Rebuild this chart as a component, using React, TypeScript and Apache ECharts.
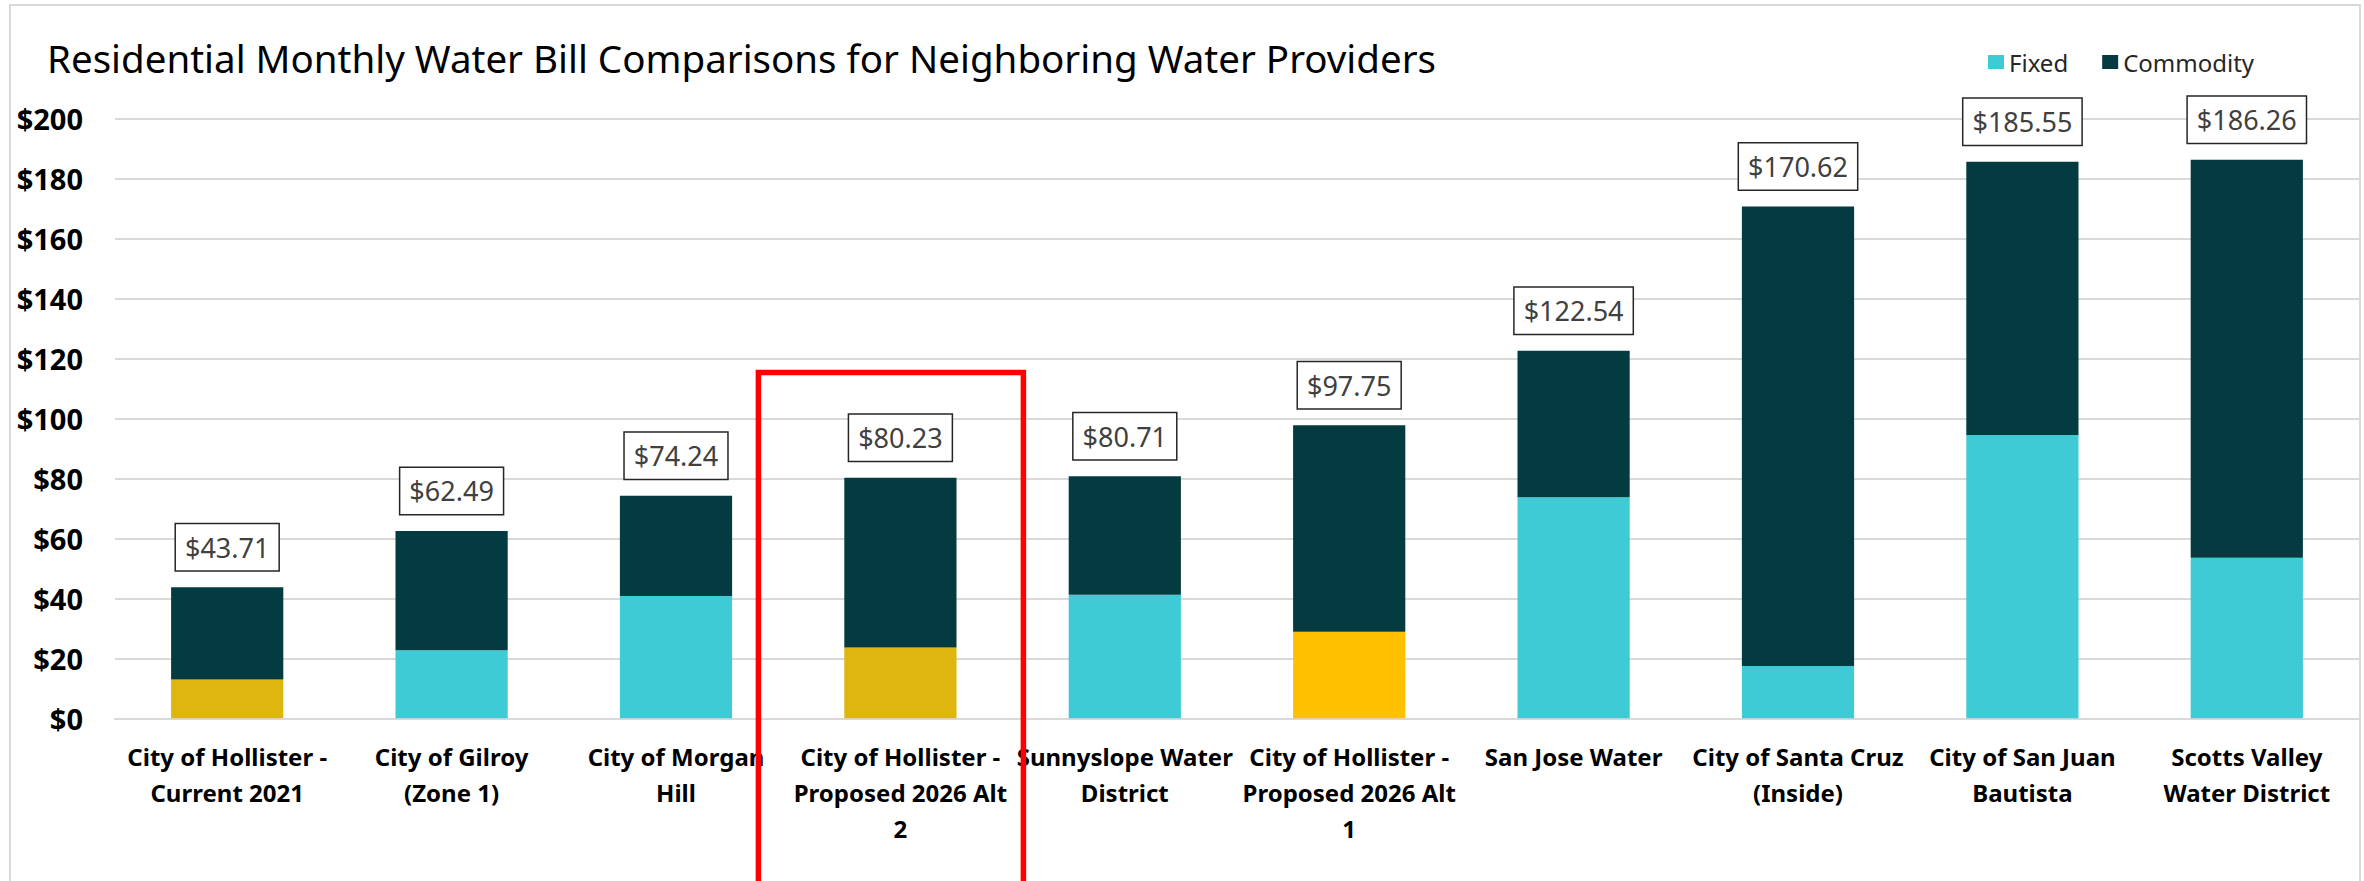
import React, { useEffect, useRef } from "react";
import * as echarts from "echarts";

const categories = [
  "City of Hollister -\nCurrent 2021",
  "City of Gilroy\n(Zone 1)",
  "City of Morgan\nHill",
  "City of Hollister -\nProposed 2026 Alt\n2",
  "Sunnyslope Water\nDistrict",
  "City of Hollister -\nProposed 2026 Alt\n1",
  "San Jose Water",
  "City of Santa Cruz\n(Inside)",
  "City of San Juan\nBautista",
  "Scotts Valley\nWater District",
];
const fixedValues = [12.9, 22.7, 40.8, 23.6, 41.2, 28.9, 73.7, 17.4, 94.5, 53.5];
const commodityValues = [30.81, 39.79, 33.44, 56.63, 39.51, 68.85, 48.84, 153.22, 91.05, 132.76];
const totalValues = [43.71, 62.49, 74.24, 80.23, 80.71, 97.75, 122.54, 170.62, 185.55, 186.26];
const highlightedIndex = 3;

const FONT = "'Noto Sans', sans-serif";
const FIXED_COLOR = "#3ECBD5";
const COMMODITY_COLOR = "#033B40";
const fixedOverrides: Record<number, string> = { 0: "#DFB510", 3: "#DFB510", 5: "#FFC000" };

export default function App() {
  const ref = useRef<HTMLDivElement>(null);
  useEffect(() => {
    const chart = echarts.init(ref.current!, null, { renderer: "svg" });
    chart.setOption({
      animation: false,
      backgroundColor: "#ffffff",
      title: {
        text: "Residential Monthly Water Bill Comparisons for Neighboring Water Providers",
        left: 47,
        top: 39,
        padding: 0,
        textStyle: { fontFamily: FONT, fontSize: 38.5, fontWeight: "normal", color: "#000000", lineHeight: 38 },
      },
      legend: {
        left: 1988,
        top: 50,
        padding: 0,
        icon: "rect",
        itemWidth: 16,
        itemHeight: 14,
        itemGap: 34,
        textStyle: { fontFamily: FONT, fontSize: 24, color: "#262626", lineHeight: 24 },
        data: ["Fixed", "Commodity"],
      },
      grid: { left: 115, right: 5, top: 118.5, bottom: 162.7, containLabel: false },
      xAxis: {
        type: "category",
        data: categories,
        axisLine: { show: true, lineStyle: { color: "#D9D9D9", width: 2 } },
        axisTick: { show: false },
        axisLabel: {
          interval: 0,
          margin: 20,
          fontFamily: FONT,
          fontSize: 24,
          fontWeight: "bold",
          color: "#000000",
          lineHeight: 36,
        },
      },
      yAxis: {
        type: "value",
        min: 0,
        max: 200,
        interval: 20,
        axisLine: { show: false },
        axisTick: { show: false },
        splitLine: { lineStyle: { color: "#D9D9D9", width: 2 } },
        axisLabel: {
          margin: 32,
          fontFamily: FONT,
          fontSize: 29,
          fontWeight: "bold",
          color: "#000000",
          formatter: (v: number) => "$" + v,
        },
      },
      series: [
        {
          name: "Fixed",
          type: "bar",
          stack: "bill",
          barWidth: "50%",
          itemStyle: { color: FIXED_COLOR },
          data: fixedValues.map((v, i) =>
            fixedOverrides[i] ? { value: v, itemStyle: { color: fixedOverrides[i] } } : v
          ),
        },
        {
          name: "Commodity",
          type: "bar",
          stack: "bill",
          barWidth: "50%",
          itemStyle: { color: COMMODITY_COLOR },
          data: commodityValues,
          label: {
            show: true,
            position: "top",
            distance: 17,
            formatter: (p: any) => "$" + totalValues[p.dataIndex].toFixed(2),
            fontFamily: FONT,
            fontSize: 27,
            lineHeight: 28,
            color: "#404040",
            backgroundColor: "#ffffff",
            borderColor: "#262626",
            borderWidth: 1.5,
            padding: [9, 9, 9, 9],
          },
        },
      ],
    });

    const cx = chart.convertToPixel({ xAxisIndex: 0 }, categories[highlightedIndex]) as number;
    const ty = chart.convertToPixel({ yAxisIndex: 0 }, 115.3) as number;
    chart.setOption({
      graphic: [
        {
          id: "border",
          type: "rect",
          silent: true,
          shape: { x: 10, y: 5, width: 2350, height: 1000 },
          style: { fill: "none", stroke: "#D9D9D9", lineWidth: 2 },
          z: 0,
        },
        {
          id: "highlight",
          type: "rect",
          silent: true,
          shape: { x: cx - 142, y: ty, width: 265, height: 1000 },
          style: { fill: "none", stroke: "#FF0000", lineWidth: 5.5 },
          z: 100,
        },
      ],
    });

    return () => chart.dispose();
  }, []);
  return (
    <div
      ref={ref}
      style={{ position: "fixed", left: 0, top: 0, width: 2364, height: 881, background: "#ffffff" }}
    />
  );
}
